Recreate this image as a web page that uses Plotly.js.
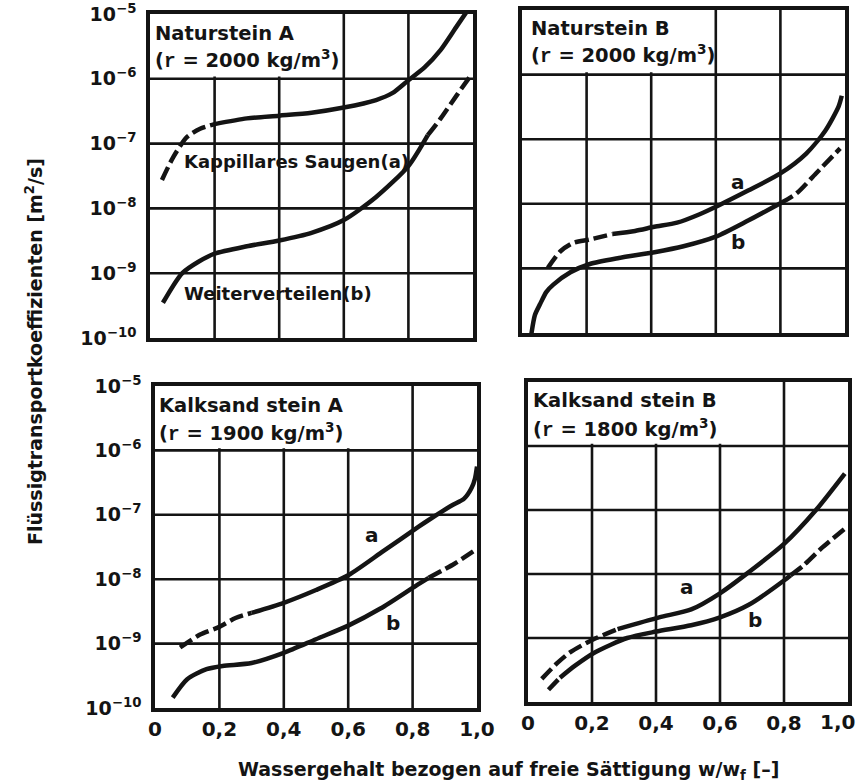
<!DOCTYPE html>
<html>
<head>
<meta charset="utf-8">
<script src="https://cdn.plot.ly/plotly-3.0.1.min.js"></script>
<style>html,body{margin:0;padding:0;background:#fff;}</style>
</head>
<body>
<div id="chart" style="width:858px;height:783px;"></div>
<script>
// ---------- tick values / labels ----------
const xTickVals = [0, 0.2, 0.4, 0.6, 0.8, 1.0];
const xTickText = ['0', '0,2', '0,4', '0,6', '0,8', '1,0'];
const yTickVals = [1e-10, 1e-9, 1e-8, 1e-7, 1e-6, 1e-5];
const yTickText = ['10<sup>−10</sup>', '10<sup>−9</sup>', '10<sup>−8</sup>', '10<sup>−7</sup>', '10<sup>−6</sup>', '10<sup>−5</sup>'];

// ---------- Naturstein A ----------
const natA_a_dashX  = [0.037, 0.072, 0.114, 0.155, 0.20];
const natA_a_dashY  = [2.75e-8, 6.2e-8, 1.26e-7, 1.7e-7, 2.0e-7];
const natA_a_solidX = [0.20, 0.30, 0.40, 0.50, 0.60, 0.70, 0.75, 0.80, 0.85, 0.90, 0.95, 0.985];
const natA_a_solidY = [2.0e-7, 2.45e-7, 2.7e-7, 3.0e-7, 3.6e-7, 4.7e-7, 6.0e-7, 9.5e-7, 1.5e-6, 2.8e-6, 6.5e-6, 1.17e-5];
const natA_b_solidX = [0.04, 0.07, 0.10, 0.15, 0.20, 0.30, 0.40, 0.50, 0.60, 0.70, 0.80, 0.86];
const natA_b_solidY = [3.5e-10, 6.2e-10, 1.0e-9, 1.5e-9, 2.0e-9, 2.6e-9, 3.2e-9, 4.2e-9, 6.6e-9, 1.5e-8, 4.5e-8, 1.35e-7];
const natA_b_dashX  = [0.86, 0.90, 0.95, 0.99];
const natA_b_dashY  = [1.35e-7, 2.45e-7, 5.6e-7, 1.07e-6];

// ---------- Naturstein B ----------
const natB_a_dashX  = [0.08, 0.12, 0.16, 0.21, 0.28];
const natB_a_dashY  = [1.02e-9, 1.86e-9, 2.5e-9, 2.8e-9, 3.4e-9];
const natB_a_solidX = [0.28, 0.35, 0.41, 0.48, 0.55, 0.61, 0.70, 0.80, 0.88, 0.94, 0.98, 0.99];
const natB_a_solidY = [3.4e-9, 3.8e-9, 4.4e-9, 5.1e-9, 6.9e-9, 9.5e-9, 1.6e-8, 2.95e-8, 6.0e-8, 1.38e-7, 3.2e-7, 4.7e-7];
const natB_b_solidX = [0.028, 0.04, 0.056, 0.075, 0.097, 0.15, 0.21, 0.30, 0.41, 0.50, 0.60, 0.70, 0.80];
const natB_b_solidY = [8.9e-11, 1.9e-10, 2.8e-10, 4.3e-10, 5.6e-10, 8.7e-10, 1.17e-9, 1.45e-9, 1.78e-9, 2.2e-9, 3.1e-9, 5.5e-9, 1.02e-8];
const natB_b_dashX  = [0.80, 0.85, 0.91, 0.985];
const natB_b_dashY  = [1.02e-8, 1.45e-8, 2.95e-8, 7.2e-8];

// ---------- Kalksandstein A ----------
const ksA_a_dashX  = [0.078, 0.14, 0.20, 0.25, 0.30];
const ksA_a_dashY  = [8.7e-10, 1.38e-9, 1.82e-9, 2.5e-9, 3.0e-9];
const ksA_a_solidX = [0.30, 0.40, 0.50, 0.60, 0.71, 0.82, 0.85, 0.92, 0.96, 0.983, 0.994, 1.0];
const ksA_a_solidY = [3.0e-9, 4.3e-9, 6.8e-9, 1.15e-8, 2.75e-8, 6.6e-8, 8.3e-8, 1.38e-7, 1.78e-7, 2.6e-7, 3.7e-7, 5.6e-7];
const ksA_b_solidX = [0.055, 0.10, 0.16, 0.21, 0.30, 0.40, 0.50, 0.60, 0.70, 0.81, 0.85];
const ksA_b_solidY = [1.45e-10, 2.8e-10, 4.0e-10, 4.5e-10, 5.0e-10, 7.2e-10, 1.17e-9, 1.9e-9, 3.5e-9, 7.9e-9, 1.05e-8];
const ksA_b_dashX  = [0.85, 0.93, 1.0];
const ksA_b_dashY  = [1.05e-8, 1.74e-8, 2.95e-8];

// ---------- Kalksandstein B ----------
const ksB_a_dashX  = [0.043, 0.09, 0.13, 0.20, 0.28];
const ksB_a_dashY  = [2.3e-10, 4.0e-10, 5.9e-10, 9.3e-10, 1.38e-9];
const ksB_a_solidX = [0.28, 0.41, 0.51, 0.60, 0.69, 0.80, 0.90, 0.99];
const ksB_a_solidY = [1.38e-9, 2.1e-9, 2.8e-9, 5.0e-9, 1.07e-8, 2.95e-8, 1.0e-7, 3.7e-7];
const ksB_b_dash1X = [0.064, 0.10];
const ksB_b_dash1Y = [1.55e-10, 2.4e-10];
const ksB_b_solidX = [0.10, 0.147, 0.21, 0.31, 0.40, 0.51, 0.60, 0.69, 0.80, 0.82];
const ksB_b_solidY = [2.4e-10, 3.7e-10, 6.0e-10, 1.0e-9, 1.26e-9, 1.58e-9, 2.1e-9, 3.3e-9, 7.9e-9, 9.5e-9];
const ksB_b_dash2X = [0.82, 0.86, 0.92, 0.99];
const ksB_b_dash2Y = [9.5e-9, 1.35e-8, 2.6e-8, 5.1e-8];

// ---------- styling ----------
const INK = '#141414';
const FONT = 'DejaVu Sans, Liberation Sans, Arial, sans-serif';
const DASH = '14px,5px';
const GRID_W = 2.6;

function seg(x, y, ax, dashed) {
  return {
    type: 'scatter', mode: 'lines', x: x, y: y,
    xaxis: 'x' + (ax === 1 ? '' : ax), yaxis: 'y' + (ax === 1 ? '' : ax),
    line: {color: INK, width: 4.5, dash: dashed ? DASH : 'solid', shape: 'spline', smoothing: 0.7},
    hoverinfo: 'skip', showlegend: false
  };
}

const data = [
  seg(natA_a_dashX, natA_a_dashY, 1, true),
  seg(natA_a_solidX, natA_a_solidY, 1, false),
  seg(natA_b_solidX, natA_b_solidY, 1, false),
  seg(natA_b_dashX, natA_b_dashY, 1, true),
  seg(natB_a_dashX, natB_a_dashY, 2, true),
  seg(natB_a_solidX, natB_a_solidY, 2, false),
  seg(natB_b_solidX, natB_b_solidY, 2, false),
  seg(natB_b_dashX, natB_b_dashY, 2, true),
  seg(ksA_a_dashX, ksA_a_dashY, 3, true),
  seg(ksA_a_solidX, ksA_a_solidY, 3, false),
  seg(ksA_b_solidX, ksA_b_solidY, 3, false),
  seg(ksA_b_dashX, ksA_b_dashY, 3, true),
  seg(ksB_a_dashX, ksB_a_dashY, 4, true),
  seg(ksB_a_solidX, ksB_a_solidY, 4, false),
  seg(ksB_b_dash1X, ksB_b_dash1Y, 4, true),
  seg(ksB_b_solidX, ksB_b_solidY, 4, false),
  seg(ksB_b_dash2X, ksB_b_dash2Y, 4, true)
];

const W = 858, H = 783;
const px = v => v / W;
const py = v => 1 - v / H;
const Y_RANGE = [-10, -5];

function xAxis(domain, anchor, labels, vals, text) {
  return {
    domain: domain, anchor: anchor, range: [0, 1], fixedrange: true,
    tickvals: vals || xTickVals, ticktext: text || xTickText, showticklabels: labels,
    ticks: '', showgrid: false, zeroline: false,
    showline: true, linecolor: INK, linewidth: 3.8, mirror: true,
    tickfont: {family: FONT, size: 20, color: INK, weight: 'bold'}
  };
}
function yAxis(domain, anchor, labels) {
  return {
    domain: domain, anchor: anchor, type: 'log', range: Y_RANGE, fixedrange: true,
    tickvals: yTickVals, ticktext: yTickText, showticklabels: labels,
    ticks: labels ? 'outside' : '', ticklen: 6, tickcolor: 'rgba(0,0,0,0)',
    showgrid: false, zeroline: false,
    showline: true, linecolor: INK, linewidth: 3.8, mirror: true,
    tickfont: {family: FONT, size: 19, color: INK, weight: 'bold'}
  };
}

// grid lines (drawn at the tick values) + white label box covering them
function panelShapes(n, boxRight) {
  const s = n === 1 ? '' : String(n);
  const out = [];
  xTickVals.filter(v => v > 0 && v < 1).forEach(v => out.push({
    type: 'line', layer: 'below', xref: 'x' + s, yref: 'y' + s + ' domain',
    x0: v, x1: v, y0: 0, y1: 1, line: {color: INK, width: GRID_W}
  }));
  yTickVals.slice(1, -1).forEach(v => {
    const f = (Math.log10(v) - Y_RANGE[0]) / (Y_RANGE[1] - Y_RANGE[0]);
    out.push({
      type: 'line', layer: 'below', xref: 'x' + s + ' domain', yref: 'y' + s + ' domain',
      x0: 0, x1: 1, y0: f, y1: f, line: {color: INK, width: GRID_W}
    });
  });
  out.push({
    type: 'rect', layer: 'below', xref: 'x' + s + ' domain', yref: 'y' + s + ' domain',
    x0: 0, x1: boxRight, y0: 0.807, y1: 1, fillcolor: '#ffffff', line: {width: 0}
  });
  return out;
}

function txt(text, x, y, size, xanchor, extra) {
  return Object.assign({
    text: text, xref: 'paper', yref: 'paper', x: px(x), y: py(y),
    xanchor: xanchor || 'left', yanchor: 'middle', showarrow: false,
    font: {family: FONT, size: size, color: INK, weight: 'bold'}
  }, extra || {});
}
const R = "<span style=\"font-family:'Liberation Mono'\">r</span>";

const annotations = [
  txt('Naturstein A', 153, 34, 19.5),
  txt('(' + R + ' = 2000 kg/m<sup>3</sup>)', 153, 60, 19.5),
  txt('Naturstein B', 529, 29, 19.5),
  txt('(' + R + ' = 2000 kg/m<sup>3</sup>)', 529, 55, 19.5),
  txt('Kalksand stein A', 157, 405, 19.5),
  txt('(' + R + ' = 1900 kg/m<sup>3</sup>)', 157, 432, 19.5),
  txt('Kalksand stein B', 531, 401, 19.5),
  txt('(' + R + ' = 1800 kg/m<sup>3</sup>)', 531, 428, 19.5),
  txt('Kappillares Saugen(a)', 182, 162, 18),
  txt('Weiterverteilen(b)', 182, 293, 18),
  txt('a', 738, 182, 20, 'center'),
  txt('b', 738, 242, 20, 'center'),
  txt('a', 372, 535, 20, 'center'),
  txt('b', 393, 623, 20, 'center'),
  txt('a', 687, 587, 20, 'center'),
  txt('b', 755, 620, 20, 'center'),
  // last tick label of the lower right panel, pulled inside the page edge
  txt(xTickText[5], 857, 722, 20, 'right'),
  txt('Flüssigtransportkoeffizienten [m<sup>2</sup>/s]', 34, 352, 19, 'center', {textangle: -90}),
  txt('Wassergehalt bezogen auf freie Sättigung w/w<sub>f</sub> [–]', 508, 770, 19, 'center')
];

const layout = {
  width: W, height: H,
  margin: {l: 0, r: 0, t: 0, b: 0},
  paper_bgcolor: '#ffffff', plot_bgcolor: '#ffffff',
  showlegend: false,
  xaxis:  xAxis([px(150), px(473)], 'y', false),
  yaxis:  yAxis([py(338), py(14)], 'x', true),
  xaxis2: xAxis([px(522), px(845)], 'y2', false),
  yaxis2: yAxis([py(333), py(10)], 'x2', false),
  xaxis3: xAxis([px(155), px(477)], 'y3', true),
  yaxis3: yAxis([py(708), py(386)], 'x3', true),
  xaxis4: xAxis([px(528), px(848)], 'y4', true, xTickVals.slice(0, 5), xTickText.slice(0, 5)),
  yaxis4: yAxis([py(702), py(382)], 'x4', false),
  shapes: [].concat(panelShapes(1, 0.585), panelShapes(2, 0.585), panelShapes(3, 0.65), panelShapes(4, 0.65)),
  annotations: annotations
};

Plotly.newPlot('chart', data, layout, {displayModeBar: false, staticPlot: true});
</script>
</body>
</html>
